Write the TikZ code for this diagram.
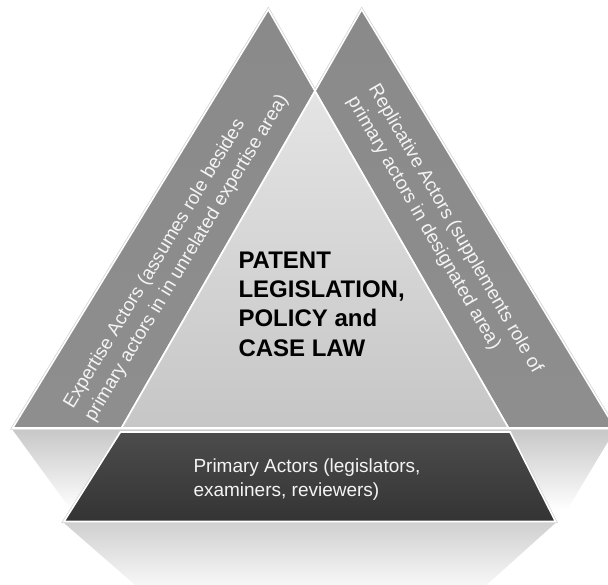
\documentclass[tikz,border=0pt]{standalone}
\usepackage{fontspec}
\setmainfont{Liberation Sans}
\definecolor{bandtop}{HTML}{8A8A8A}
\definecolor{bandmid}{HTML}{5A5A5A}
\definecolor{bandbot}{HTML}{8E8E8E}
\definecolor{coretop}{HTML}{E4E4E4}
\definecolor{corebot}{HTML}{C6C6C6}
\definecolor{basetop}{HTML}{4C4C4C}
\definecolor{basebot}{HTML}{343434}
\definecolor{reflc}{HTML}{C8C8C8}
\definecolor{reflb}{HTML}{D0D0D0}
\definecolor{txtw}{HTML}{F4F4F4}
\begin{document}
\begin{tikzpicture}[x=1pt,y=-1pt,
  outline/.style={draw=white, line width=1.6pt, line join=miter},
  halo/.style={draw=black!18, line width=3pt, line join=miter},
  band/.style={outline, top color=bandtop, middle color=bandmid, bottom color=bandbot},
  core/.style={outline, top color=coretop, bottom color=corebot},
  base/.style={outline, top color=basetop, bottom color=basebot},
  refl/.style={top color=reflc, bottom color=white},
  reflbase/.style={top color=reflb, bottom color=white},
  whitetxt/.style={text=txtw, font=\fontsize{19}{24.4}\selectfont, align=left, inner sep=0pt},
  boldtxt/.style={text=black, font=\fontsize{24}{29.3}\selectfont\bfseries, align=left, inner sep=0pt}]
\useasboundingbox (0,0) rectangle (608,584);
\clip (0,0) rectangle (608,584);
% key points
\coordinate (AL) at (268.3,9.5);
\coordinate (AR) at (361.7,9.5);
\coordinate (X) at (315,91);
\coordinate (BLo) at (12.7,428);
\coordinate (BLi) at (121.5,428);
\coordinate (BRi) at (508.5,428);
\coordinate (BRo) at (615,428);
\coordinate (TTL) at (120.5,432);
\coordinate (TTR) at (510,432);
\coordinate (TBR) at (555.5,521.5);
\coordinate (TBL) at (64,521.5);
% reflections
\path[refl] (12.7,430) -- (615,430) -- (567,510) -- (71,510) -- cycle;
\path[reflbase] (64,523) -- (555.5,523) -- (472,598) -- (150,598) -- cycle;
% soft halos
\path[halo] (AL) -- (X) -- (AR) -- (BRo) -- (BLo) -- cycle;
\path[halo] (TTL) -- (TTR) -- (TBR) -- (TBL) -- cycle;
% shapes
\path[band] (AL) -- (X) -- (BLi) -- (BLo) -- cycle;
\path[band] (AR) -- (BRo) -- (BRi) -- (X) -- cycle;
\path[core] (X) -- (BRi) -- (BLi) -- cycle;
\path[base] (TTL) -- (TTR) -- (TBR) -- (TBL) -- cycle;
% texts
\node[boldtxt, anchor=base west] (law) at (238.3,356) {PATENT\\LEGISLATION,\\POLICY and\\CASE LAW};
\node[whitetxt, anchor=base west] (prim) at (193.3,496.7) {Primary Actors (legislators,\\examiners, reviewers)};
\node[whitetxt, rotate=59] (exp) at (176.5,252) {Expertise Actors (assumes role besides\\primary actors in in unrelated expertise area)};
\node[whitetxt, rotate=-60] (rep) at (444.5,235) {Replicative Actors (supplements role of\\primary actors in designated area)};
\end{tikzpicture}
\end{document}
